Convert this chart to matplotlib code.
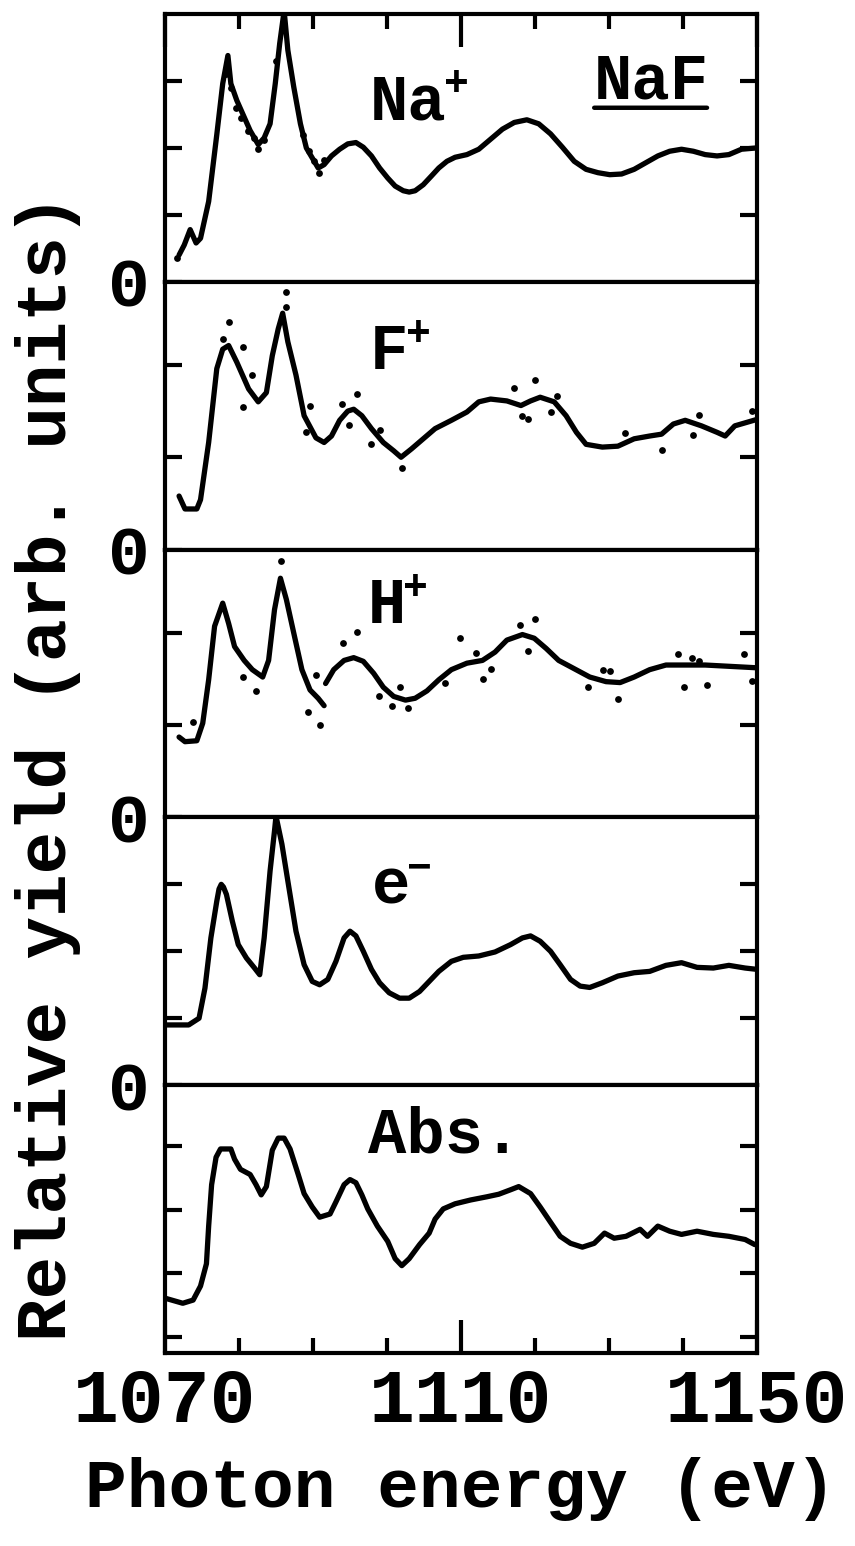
import matplotlib
matplotlib.use('Agg')
import matplotlib.pyplot as plt

FONT = ['Liberation Mono', 'DejaVu Sans Mono']
plt.rcParams['font.family'] = FONT
plt.rcParams['font.weight'] = 'bold'
plt.rcParams['axes.labelweight'] = 'bold'

# ---------------- data ----------------
na_x = [1071.9, 1072.6, 1073.4, 1074.2, 1074.8, 1075.9, 1077.0, 1077.8, 1078.5, 1078.9,
        1079.7, 1080.7, 1081.5, 1082.6, 1083.4, 1084.2, 1084.9, 1085.5, 1086.1, 1086.6,
        1087.4, 1088.3, 1089.1, 1089.9, 1090.7, 1091.5, 1092.5, 1093.6, 1094.7, 1095.8,
        1096.8, 1097.9, 1099.0, 1100.1, 1101.1, 1102.2, 1103.0, 1103.8, 1104.9, 1106.0,
        1107.0, 1108.1, 1109.2, 1110.8, 1112.4, 1114.0, 1115.6, 1117.2, 1118.9, 1120.5,
        1122.1, 1123.7, 1125.3, 1126.9, 1128.5, 1130.1, 1131.7, 1133.4, 1135.0, 1136.6,
        1138.2, 1139.8, 1141.4, 1143.0, 1144.6, 1146.2, 1147.9, 1150.0]
na_y = [0.40, 0.55, 0.78, 0.58, 0.65, 1.20, 2.20, 2.96, 3.38, 2.96,
        2.71, 2.46, 2.26, 2.05, 2.15, 2.36, 2.96, 3.56, 4.05, 3.46,
        2.91, 2.36, 2.00, 1.85, 1.70, 1.75, 1.88, 1.98, 2.06, 2.08,
        2.01, 1.88, 1.70, 1.55, 1.43, 1.36, 1.34, 1.36, 1.45, 1.58,
        1.70, 1.80, 1.86, 1.90, 1.98, 2.13, 2.28, 2.38, 2.42, 2.36,
        2.21, 2.01, 1.80, 1.68, 1.63, 1.60, 1.61, 1.68, 1.78, 1.88,
        1.95, 1.98, 1.95, 1.90, 1.88, 1.90, 1.98, 2.00]
na_dot_x = [1071.6, 1078.2, 1078.9, 1079.6, 1080.3, 1081.2, 1082.0, 1082.6, 1083.4,
            1085.0, 1088.6, 1089.5, 1090.2, 1090.8, 1091.5]
na_dot_y = [0.35, 3.10, 2.90, 2.60, 2.45, 2.25, 2.15, 1.98, 2.12,
            3.30, 2.20, 1.95, 1.80, 1.62, 1.82]

f_x = [1071.9, 1072.7, 1074.3, 1074.8, 1075.9, 1077.0, 1077.8, 1078.6, 1079.7, 1081.3,
       1082.6, 1083.7, 1084.5, 1085.3, 1085.9, 1086.6, 1087.7, 1088.8, 1090.4, 1091.5,
       1092.5, 1093.6, 1094.7, 1095.5, 1096.6, 1097.9, 1099.5, 1100.9, 1101.9, 1103.3,
       1104.9, 1106.5, 1108.7, 1110.8, 1112.4, 1114.0, 1116.2, 1118.1, 1119.4, 1120.7,
       1122.6, 1124.2, 1125.6, 1126.9, 1129.1, 1131.2, 1133.4, 1135.5, 1137.1, 1138.7,
       1140.3, 1142.5, 1144.6, 1145.7, 1147.0, 1150.0]
f_y = [0.58, 0.44, 0.44, 0.54, 1.16, 1.96, 2.17, 2.21, 2.03, 1.74,
       1.60, 1.70, 2.10, 2.39, 2.56, 2.25, 1.89, 1.45, 1.21, 1.16,
       1.23, 1.40, 1.50, 1.52, 1.45, 1.31, 1.16, 1.07, 1.00, 1.09,
       1.20, 1.31, 1.40, 1.49, 1.60, 1.63, 1.61, 1.56, 1.61, 1.65,
       1.60, 1.45, 1.27, 1.14, 1.11, 1.12, 1.20, 1.23, 1.25, 1.36,
       1.40, 1.34, 1.27, 1.23, 1.34, 1.41]
f_dot_x = [1078.6, 1077.8, 1080.5, 1081.8, 1080.5, 1086.4, 1086.4, 1089.6, 1093.9, 1095.9,
           1094.8, 1097.9, 1099.0, 1102.0, 1117.1, 1120.0, 1123.0, 1122.1, 1118.3, 1119.1,
           1132.2, 1137.1, 1141.4, 1142.2, 1149.3, 1089.1]
f_dot_y = [2.47, 2.28, 2.19, 1.89, 1.54, 2.79, 2.63, 1.55, 1.58, 1.69,
           1.35, 1.14, 1.29, 0.88, 1.75, 1.84, 1.66, 1.49, 1.45, 1.41,
           1.26, 1.08, 1.24, 1.46, 1.50, 1.27]

h1_x = [1071.9, 1072.7, 1074.3, 1075.1, 1075.9, 1076.7, 1077.8, 1078.6, 1079.4, 1080.7,
        1081.8, 1083.2, 1084.0, 1084.8, 1085.6, 1086.4, 1087.5, 1088.5, 1089.6, 1090.7,
        1091.5]
h1_y = [0.87, 0.82, 0.83, 1.02, 1.49, 2.07, 2.32, 2.10, 1.85, 1.70,
        1.60, 1.52, 1.70, 2.25, 2.59, 2.36, 1.96, 1.60, 1.38, 1.29,
        1.21]
h2_x = [1091.7, 1092.8, 1094.2, 1095.5, 1096.8, 1098.2, 1099.5, 1100.9, 1102.5, 1103.8,
        1105.4, 1107.0, 1108.7, 1110.8, 1112.9, 1114.6, 1116.2, 1118.3, 1119.9, 1121.5,
        1123.2, 1125.3, 1127.4, 1129.6, 1131.5, 1133.4, 1135.5, 1137.7, 1143.0, 1150.0]
h2_y = [1.45, 1.60, 1.70, 1.73, 1.69, 1.56, 1.41, 1.31, 1.27, 1.29,
        1.37, 1.49, 1.60, 1.67, 1.70, 1.79, 1.92, 1.98, 1.94, 1.83,
        1.70, 1.61, 1.52, 1.47, 1.46, 1.52, 1.60, 1.65, 1.65, 1.62]
h_dot_x = [1085.7, 1073.8, 1080.5, 1082.3, 1089.3, 1091.0, 1090.4, 1094.0, 1095.9, 1098.9,
           1100.7, 1102.8, 1101.8, 1107.8, 1109.9, 1112.0, 1113.0, 1114.0, 1118.0, 1120.0,
           1119.1, 1127.1, 1129.2, 1130.1, 1131.2, 1139.3, 1141.2, 1142.2, 1140.2, 1143.2,
           1148.2, 1149.3]
h_dot_y = [2.78, 1.03, 1.52, 1.37, 1.14, 1.00, 1.54, 1.89, 2.01, 1.31,
           1.21, 1.18, 1.41, 1.46, 1.94, 1.78, 1.50, 1.61, 2.08, 2.15,
           1.80, 1.41, 1.60, 1.58, 1.28, 1.77, 1.73, 1.69, 1.41, 1.43,
           1.77, 1.48]

e_x = [1070.0, 1073.2, 1074.6, 1075.4, 1076.2, 1077.0, 1077.3, 1077.6, 1077.9, 1078.3,
       1079.1, 1079.9, 1081.0, 1082.1, 1082.8, 1083.4, 1084.2, 1084.8, 1085.0, 1085.8,
       1086.6, 1087.7, 1088.8, 1089.9, 1090.9, 1092.0, 1093.1, 1094.2, 1095.0, 1095.8,
       1096.8, 1097.9, 1099.0, 1100.3, 1101.7, 1103.0, 1104.4, 1105.7, 1107.0, 1108.7,
       1110.3, 1112.4, 1114.6, 1116.7, 1118.3, 1119.4, 1120.7, 1122.1, 1123.4, 1124.8,
       1126.1, 1127.4, 1129.1, 1131.2, 1133.4, 1135.5, 1137.7, 1139.8, 1141.9, 1144.1,
       1146.2, 1148.4, 1150.0]
e_y = [0.90, 0.90, 1.00, 1.45, 2.20, 2.75, 2.93, 3.00, 2.96, 2.85,
       2.45, 2.10, 1.90, 1.75, 1.65, 2.20, 3.20, 3.80, 4.02, 3.60,
       3.05, 2.30, 1.80, 1.55, 1.50, 1.58, 1.85, 2.20, 2.30, 2.23,
       2.00, 1.73, 1.53, 1.38, 1.30, 1.30, 1.40, 1.55, 1.70, 1.85,
       1.91, 1.93, 1.99, 2.10, 2.20, 2.23, 2.15, 2.00, 1.80, 1.58,
       1.48, 1.46, 1.53, 1.63, 1.68, 1.70, 1.79, 1.83, 1.76, 1.75,
       1.79, 1.75, 1.73]

abs_x = [1070.0, 1072.4, 1073.8, 1074.8, 1075.6, 1075.9, 1076.3, 1076.9, 1077.5, 1078.9,
         1079.4, 1080.2, 1081.5, 1082.3, 1083.0, 1083.7, 1084.5, 1085.3, 1086.1, 1086.9,
         1088.0, 1088.8, 1089.9, 1090.9, 1092.3, 1093.1, 1094.2, 1095.0, 1095.8, 1096.6,
         1097.4, 1098.7, 1100.1, 1101.1, 1102.0, 1103.0, 1104.4, 1105.7, 1106.5, 1107.6,
         1109.2, 1111.3, 1113.5, 1115.1, 1116.7, 1117.8, 1119.4, 1120.7, 1122.1, 1123.4,
         1124.8, 1126.4, 1128.0, 1129.4, 1130.7, 1132.3, 1134.2, 1135.2, 1136.6, 1138.2,
         1139.8, 1141.9, 1144.1, 1146.2, 1148.4, 1149.7]
abs_y = [0.61, 0.53, 0.58, 0.80, 1.15, 1.74, 2.39, 2.82, 2.95, 2.95,
         2.79, 2.63, 2.55, 2.39, 2.23, 2.36, 2.93, 3.12, 3.12, 2.95,
         2.55, 2.25, 2.04, 1.88, 1.93, 2.12, 2.39, 2.47, 2.42, 2.23,
         2.01, 1.74, 1.50, 1.23, 1.12, 1.23, 1.45, 1.63, 1.85, 2.01,
         2.09, 2.15, 2.20, 2.24, 2.31, 2.36, 2.25, 2.04, 1.80, 1.58,
         1.47, 1.41, 1.47, 1.63, 1.55, 1.58, 1.69, 1.58, 1.74, 1.66,
         1.61, 1.66, 1.61, 1.58, 1.53, 1.45]

x_major = [1070, 1110, 1150]
x_major_labels = ['1070', '1110', '1150']
x_minor = [1080, 1090, 1100, 1120, 1130, 1140]

ylims = [(0, 4), (0, 2.9), (0, 2.9), (0, 4), (-0.25, 3.95)]
yticks = [[0, 1, 2, 3], [0, 1, 2], [0, 1, 2], [0, 1, 2, 3], [0, 1, 2, 3]]
zero_label = [True, True, True, True, False]

# ---------------- figure ----------------
fig = plt.figure(figsize=(8.55, 15.46), dpi=100)
gs = fig.add_gridspec(5, 1, left=165 / 855, right=757 / 855,
                      top=1 - 14 / 1546, bottom=1 - 1353 / 1546, hspace=0)
axes = [fig.add_subplot(gs[i]) for i in range(5)]

LW = 3.8
for i, ax in enumerate(axes):
    ax.set_xlim(1070, 1150)
    ax.set_ylim(*ylims[i])
    for s in ax.spines.values():
        s.set_linewidth(3.0)
    ax.set_yticks(yticks[i])
    ax.set_yticklabels(['0' if (j == 0 and zero_label[i]) else '' for j in range(len(yticks[i]))])
    ax.tick_params(axis='y', which='major', direction='in', left=True, right=True,
                   length=12, width=3, pad=11, labelsize=50)
    ax.set_xticks(x_major)
    ax.set_xticks(x_minor, minor=True)
    ax.tick_params(axis='x', which='major', direction='in', length=24, width=3)
    ax.tick_params(axis='x', which='minor', direction='in', length=11, width=3)
    if i == 0:
        ax.tick_params(axis='x', which='both', top=True, bottom=False,
                       labelbottom=False, labeltop=False)
    elif i == 4:
        ax.tick_params(axis='x', which='both', top=False, bottom=True,
                       labelbottom=True)
        ax.set_xticklabels(x_major_labels)
        ax.tick_params(axis='x', which='major', pad=10, labelsize=55)
    else:
        ax.tick_params(axis='x', which='both', top=False, bottom=False,
                       labelbottom=False)

kw = dict(color='black', lw=LW, solid_joinstyle='round', solid_capstyle='round')
dot = dict(color='black', s=24, lw=0, zorder=3)

ax = axes[0]
ax.plot(na_x, na_y, **kw)
ax.scatter(na_dot_x, na_dot_y, **dot)
ax = axes[1]
ax.plot(f_x, f_y, **kw)
ax.scatter(f_dot_x, f_dot_y, **dot)
ax = axes[2]
ax.plot(h1_x, h1_y, **kw)
ax.plot(h2_x, h2_y, **kw)
ax.scatter(h_dot_x, h_dot_y, **dot)
ax = axes[3]
ax.plot(e_x, e_y, **kw)
ax = axes[4]
ax.plot(abs_x, abs_y, **kw)

LBL = 46
SUP = 30

def label(ax, x, y, main, sup=None):
    t = ax.text(x, y, main, ha='left', va='baseline', fontsize=LBL, family=FONT)
    if sup:
        ax.annotate(sup, xy=(1.0, 0.80), xycoords=t, ha='left', va='center',
                    fontsize=SUP, family=FONT, xytext=(-2, 0), textcoords='offset points')
    return t

label(axes[0], 1097.7, 2.43, 'Na', '+')
tn = axes[0].text(1128.0, 2.74, 'NaF', ha='left', va='baseline', fontsize=LBL, family=FONT)
axes[0].annotate('', xy=(0.0, 0.06), xycoords=tn, xytext=(0.98, 0.06), textcoords=tn,
                 arrowprops=dict(arrowstyle='-', lw=3.2, color='black', shrinkA=0, shrinkB=0))
label(axes[1], 1097.7, 1.96, 'F', '+')
label(axes[2], 1097.4, 2.10, 'H', '+')
label(axes[3], 1097.9, 2.72, 'e', '\u2212')
label(axes[4], 1097.4, 2.90, 'Abs.')

axes[4].set_xlabel('Photon energy (eV)', fontsize=50, labelpad=14, fontweight='bold')
fig.text(48 / 855, 1 - 767 / 1546, 'Relative yield (arb. units)', rotation=90,
         ha='center', va='center', fontsize=51, fontweight='bold')

fig.savefig('out.png', dpi=100, facecolor='white')
